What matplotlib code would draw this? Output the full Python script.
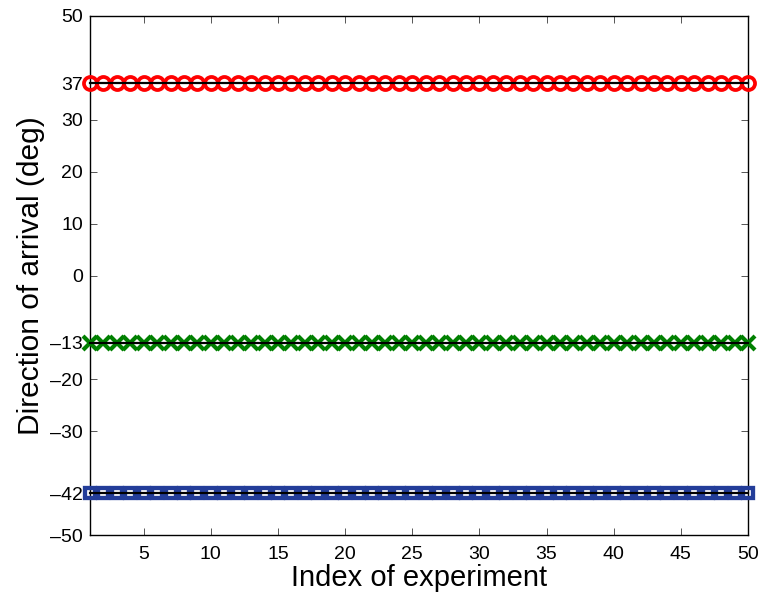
import matplotlib
matplotlib.use("Agg")
import matplotlib.pyplot as plt

plt.rcParams['font.family'] = ['Liberation Sans', 'DejaVu Sans']

experiments = list(range(1, 51))
est_src1 = [37, 37, 37, 37, 37, 37, 37, 37, 37, 37, 37, 37, 37, 37, 37, 37, 37, 37, 37, 37, 37, 37, 37, 37, 37,
            37, 37, 37, 37, 37, 37, 37, 37, 37, 37, 37, 37, 37, 37, 37, 37, 37, 37, 37, 37, 37, 37, 37, 37, 37]
est_src2 = [-13, -13, -13, -13, -13, -13, -13, -13, -13, -13, -13, -13, -13, -13, -13, -13, -13, -13, -13, -13, -13, -13, -13, -13, -13,
            -13, -13, -13, -13, -13, -13, -13, -13, -13, -13, -13, -13, -13, -13, -13, -13, -13, -13, -13, -13, -13, -13, -13, -13, -13]
est_src3 = [-42, -42, -42, -42, -42, -42, -42, -42, -42, -42, -42, -42, -42, -42, -42, -42, -42, -42, -42, -42, -42, -42, -42, -42, -42,
            -42, -42, -42, -42, -42, -42, -42, -42, -42, -42, -42, -42, -42, -42, -42, -42, -42, -42, -42, -42, -42, -42, -42, -42, -42]
true_doas = [37, -13, -42]
x_ticks = [5, 10, 15, 20, 25, 30, 35, 40, 45, 50]
y_ticks = [-50, -42, -30, -20, -13, 0, 10, 20, 30, 37, 50]
y_ticklabels = ['\u201350', '\u201342', '\u201330', '\u201320', '\u201313', '0', '10', '20', '30', '37', '50']

fig = plt.figure(figsize=(7.6, 5.99), dpi=100)
ax = fig.add_axes([90/760, 1-535/599, (748-90)/760, (535-16)/599])

ax.plot(experiments, est_src1, linestyle='none', marker='o', markersize=9.4,
        markerfacecolor='none', markeredgecolor='#ff0000', markeredgewidth=2.7, clip_on=False, zorder=3)
ax.plot(experiments, est_src2, linestyle='none', marker='x', markersize=9.8,
        markeredgecolor='#008000', markeredgewidth=3.0, clip_on=False, zorder=3)
ax.plot(experiments, est_src3, linestyle='none', marker='s', markersize=7.6,
        markerfacecolor='none', markeredgecolor='#233d99', markeredgewidth=3.1, clip_on=False, zorder=3)
for t in true_doas:
    ax.plot([experiments[0], experiments[-1]], [t, t], color='black', linewidth=1.6, zorder=4, clip_on=False)

ax.set_xlim(1, 50)
ax.set_ylim(-50, 50)
ax.set_xticks(x_ticks)
ax.set_yticks(y_ticks)
ax.set_yticklabels(y_ticklabels)
ax.tick_params(direction='in', length=5, width=0.7, color='#555555', top=True, right=True, labelsize=14, pad=5)
ax.tick_params(axis='x', pad=8)
for s in ax.spines.values():
    s.set_linewidth(1.0)
ax.set_xlabel('Index of experiment', fontsize=21, labelpad=1)
ax.set_ylabel('Direction of arrival (deg)', fontsize=21.5, labelpad=4)

fig.savefig('out.png', dpi=100)
